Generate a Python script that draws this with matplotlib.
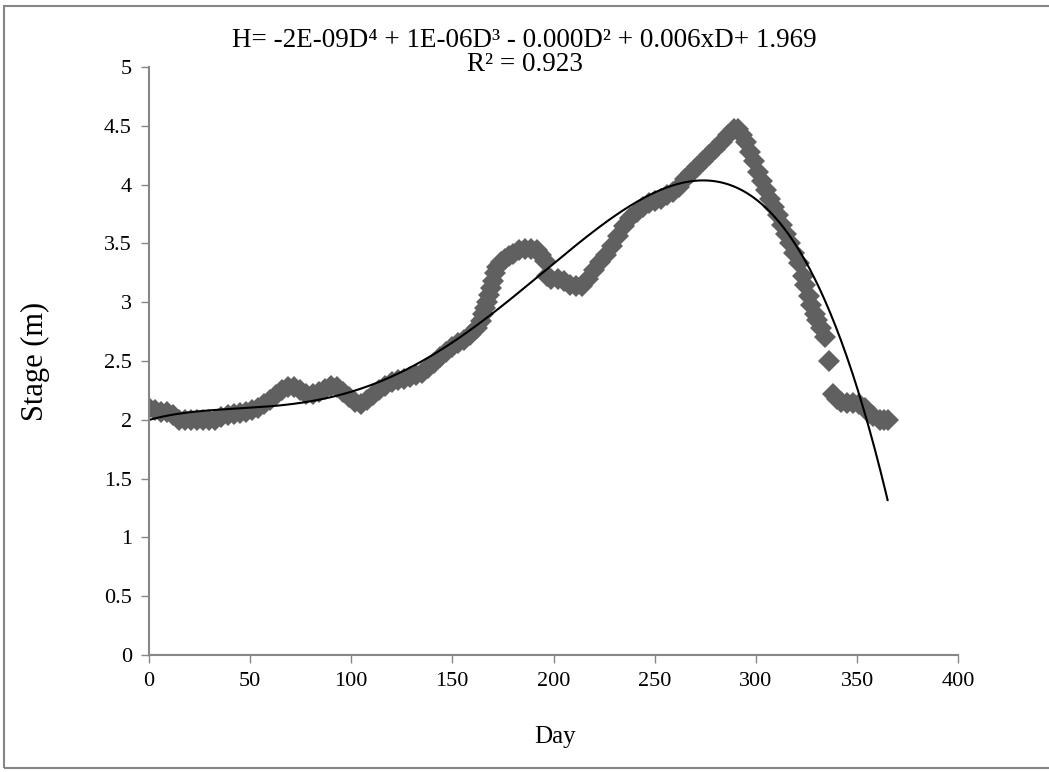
import numpy as np
import matplotlib
matplotlib.use('Agg')
import matplotlib.pyplot as plt
from matplotlib.patches import Rectangle

plt.rcParams['font.family'] = ['Liberation Serif', 'DejaVu Serif']

# dias e cotas
dia = [0, 3, 6, 9, 12, 15, 18, 21, 24, 27, 30, 33, 36, 39, 42, 45, 48, 51, 54, 57,
       60, 63, 66, 69, 72, 75, 78, 81, 84, 87, 90, 93, 96, 99, 102, 105, 108, 111, 114, 117,
       120, 123, 126, 129, 132, 135, 138, 141, 144, 147, 150, 153, 156, 159, 162, 164, 165, 166, 167, 168,
       169, 170, 171, 172, 174, 176, 178, 180, 183, 186, 189, 192, 194, 196, 197, 199, 202, 205, 208, 211,
       214, 217, 220, 223, 226, 229, 232, 235, 238, 241, 244, 247, 250, 253, 256, 259, 262, 265, 268, 271,
       274, 277, 280, 283, 286, 289, 291, 293, 295, 297, 299, 301, 303, 305, 307, 309, 311, 313, 315, 317,
       319, 321, 323, 324, 326, 327, 329, 330, 332, 334, 336, 338, 340, 342, 345, 348, 351, 354, 356, 358,
       361, 363, 365]
cota = [2.10, 2.08, 2.07, 2.07, 2.04, 2.00, 2.00, 2.00, 2.00, 2.00, 2.00, 2.00, 2.02, 2.04, 2.05, 2.06, 2.07, 2.08, 2.10, 2.13,
        2.17, 2.21, 2.25, 2.28, 2.28, 2.25, 2.22, 2.22, 2.24, 2.26, 2.29, 2.28, 2.24, 2.19, 2.15, 2.13, 2.17, 2.21, 2.25, 2.29,
        2.32, 2.34, 2.35, 2.36, 2.38, 2.40, 2.44, 2.48, 2.53, 2.58, 2.62, 2.65, 2.68, 2.72, 2.78, 2.84, 2.90, 2.95, 3.00, 3.06,
        3.12, 3.18, 3.25, 3.30, 3.34, 3.37, 3.39, 3.41, 3.44, 3.45, 3.45, 3.44, 3.40, 3.35, 3.22, 3.20, 3.20, 3.18, 3.15, 3.14,
        3.14, 3.20, 3.27, 3.34, 3.40, 3.48, 3.56, 3.65, 3.72, 3.77, 3.81, 3.84, 3.86, 3.88, 3.91, 3.94, 3.98, 4.05, 4.10, 4.15,
        4.20, 4.25, 4.30, 4.36, 4.42, 4.47, 4.47, 4.42, 4.36, 4.28, 4.20, 4.11, 4.03, 3.95, 3.88, 3.81, 3.74, 3.66, 3.58, 3.50,
        3.42, 3.33, 3.22, 3.15, 3.05, 2.98, 2.90, 2.85, 2.78, 2.70, 2.50, 2.22, 2.18, 2.15, 2.14, 2.14, 2.13, 2.10, 2.06, 2.03,
        2.00, 2.00, 2.00]

xticks = [0, 50, 100, 150, 200, 250, 300, 350, 400]
yticks = [0, 0.5, 1, 1.5, 2, 2.5, 3, 3.5, 4, 4.5, 5]
ytlabels = ['0', '0.5', '1', '1.5', '2', '2.5', '3', '3.5', '4', '4.5', '5']

cinza = '#868686'

fig = plt.figure(figsize=(10.49, 7.72), dpi=100)
ax = fig.add_axes([0.1416, 0.1516, 0.7721, 0.7616])

ax.plot(dia, cota, linestyle='none', marker='D', markersize=11,
        color='#606060', markeredgewidth=0)

# linha de tendencia polinomial de ordem 4 (peso pelo espacamento entre leituras)
peso = np.sqrt(np.gradient(np.array(dia, dtype=float)))
coef = np.polyfit(dia, cota, 4, w=peso)
xt = np.linspace(0, 365, 400)
ax.plot(xt, np.polyval(coef, xt), color='black', linewidth=1.5)

ax.set_xlim(0, 400)
ax.set_ylim(0, 5)
ax.set_xticks(xticks)
ax.set_yticks(yticks)
ax.set_yticklabels(ytlabels)
for s in ['top', 'right']:
    ax.spines[s].set_visible(False)
for s in ['left', 'bottom']:
    ax.spines[s].set_color(cinza)
    ax.spines[s].set_linewidth(1.5)
ax.tick_params(direction='out', length=6, width=1, color=cinza,
               labelsize=16, pad=6)
ax.set_xlabel('Day', fontsize=18, va='center')
ax.xaxis.set_label_coords(0.502, -0.139)
ax.set_ylabel('Stage (m)', fontsize=22, va='center')
ax.yaxis.set_label_coords(-0.14, 0.5)

fig.text(0.5, 0.948, 'H= -2E-09D⁴ + 1E-06D³ - 0.000D² + 0.006xD+ 1.969',
         ha='center', va='center', fontsize=19.5)
fig.text(0.5, 0.916, 'R² = 0.923', ha='center', va='center', fontsize=19.5)

fig.patches.append(Rectangle((0.004, 0.005), 1.2, 0.987, transform=fig.transFigure,
                             fill=False, edgecolor=cinza, linewidth=1.5))

plt.savefig('out.png')
